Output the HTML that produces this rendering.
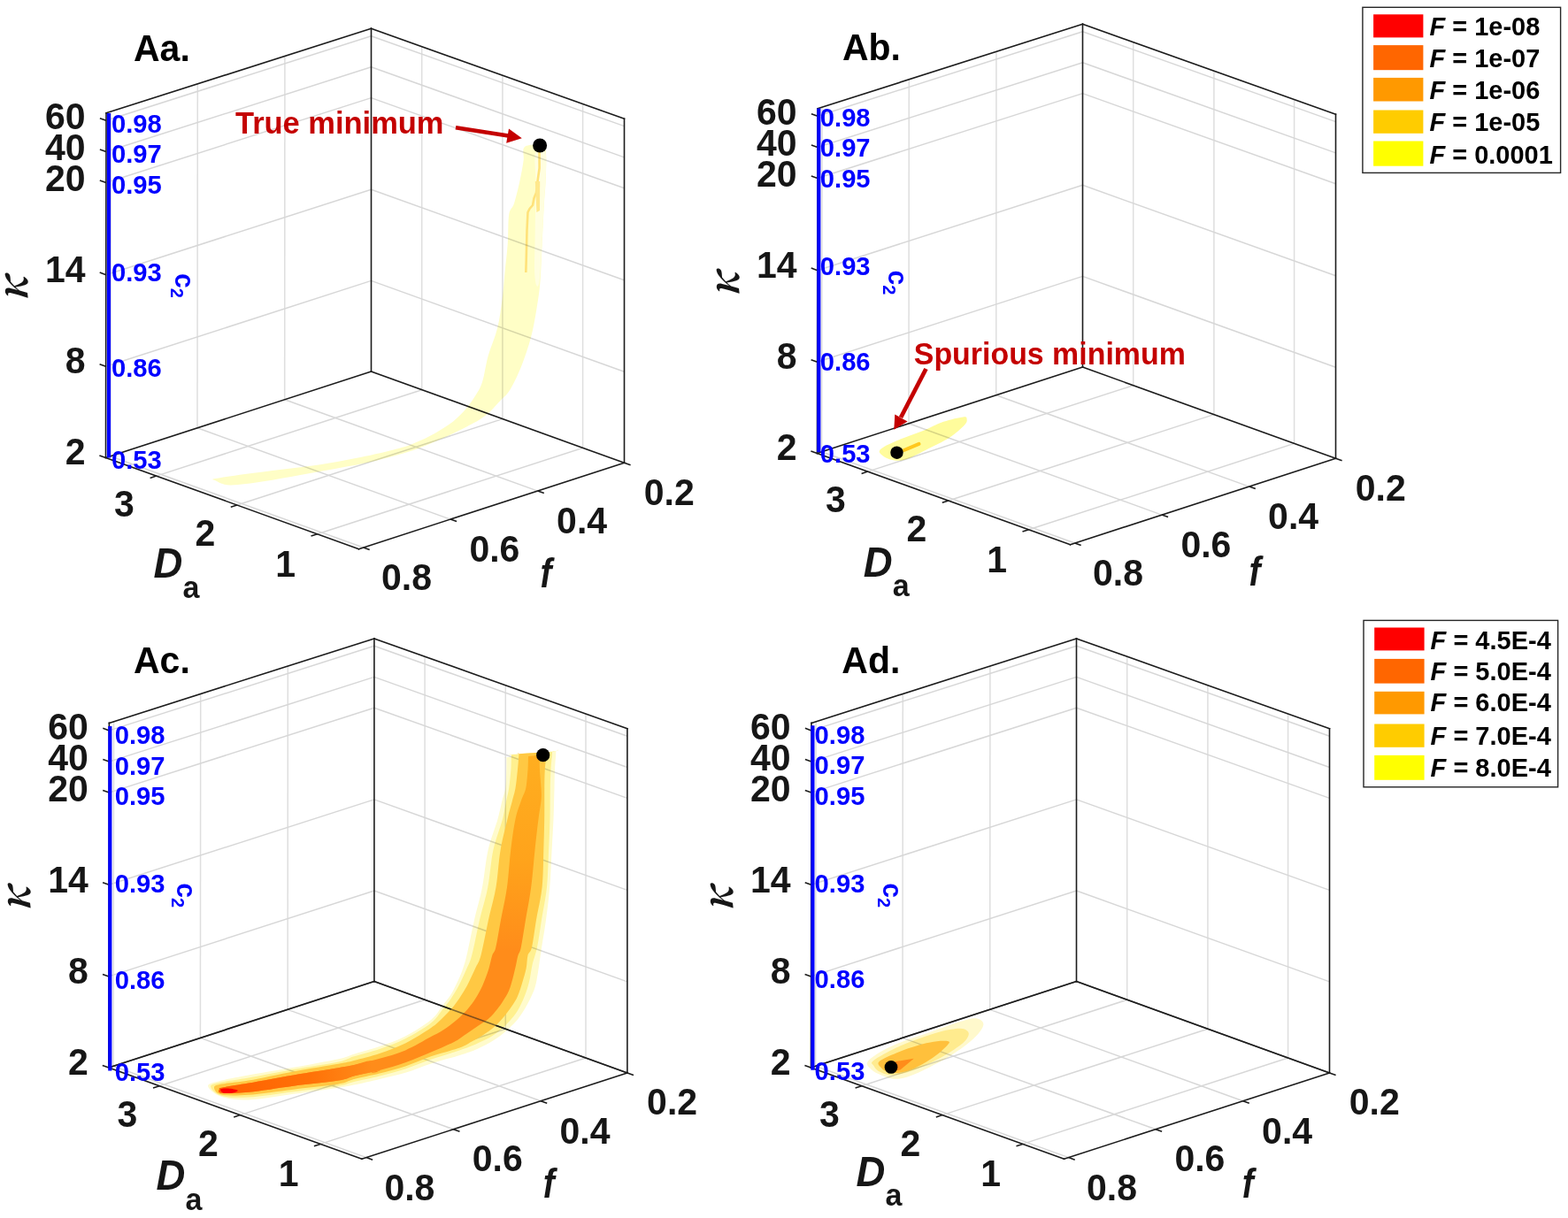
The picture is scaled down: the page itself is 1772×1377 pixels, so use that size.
<!DOCTYPE html>
<html><head><meta charset="utf-8"><title>Figure</title>
<style>html,body{margin:0;padding:0;background:#fff;} svg{display:block;}</style>
</head><body>
<svg width="1772" height="1377" viewBox="0 0 1772 1377">
<rect width="1772" height="1377" fill="#ffffff"/>
<g>
<line x1="321.7" y1="451.8" x2="321.9" y2="63.4" stroke="#dedede" stroke-width="1.5"/>
<line x1="223.0" y1="483.8" x2="223.3" y2="94.9" stroke="#dedede" stroke-width="1.5"/>
<line x1="124.6" y1="515.7" x2="125.1" y2="126.2" stroke="#dedede" stroke-width="1.5"/>
<line x1="419.5" y1="317.4" x2="119.6" y2="414.3" stroke="#d7d7d7" stroke-width="1.5"/>
<line x1="419.5" y1="214.3" x2="119.8" y2="310.7" stroke="#d7d7d7" stroke-width="1.5"/>
<line x1="419.5" y1="110.6" x2="119.9" y2="206.5" stroke="#d7d7d7" stroke-width="1.5"/>
<line x1="419.5" y1="75.8" x2="119.9" y2="171.5" stroke="#d7d7d7" stroke-width="1.5"/>
<line x1="419.5" y1="40.7" x2="120.0" y2="136.3" stroke="#d7d7d7" stroke-width="1.5"/>
<line x1="476.7" y1="440.7" x2="476.7" y2="52.7" stroke="#dedede" stroke-width="1.5"/>
<line x1="567.9" y1="473.6" x2="567.9" y2="85.2" stroke="#dedede" stroke-width="1.5"/>
<line x1="658.6" y1="506.4" x2="658.6" y2="117.5" stroke="#dedede" stroke-width="1.5"/>
<line x1="419.5" y1="317.4" x2="705.5" y2="420.3" stroke="#d7d7d7" stroke-width="1.5"/>
<line x1="419.5" y1="214.3" x2="705.5" y2="316.8" stroke="#d7d7d7" stroke-width="1.5"/>
<line x1="419.5" y1="110.6" x2="705.5" y2="212.8" stroke="#d7d7d7" stroke-width="1.5"/>
<line x1="419.5" y1="75.8" x2="705.5" y2="177.9" stroke="#d7d7d7" stroke-width="1.5"/>
<line x1="419.5" y1="40.7" x2="705.5" y2="142.6" stroke="#d7d7d7" stroke-width="1.5"/>
<line x1="476.7" y1="440.7" x2="176.7" y2="538.1" stroke="#d7d7d7" stroke-width="1.5"/>
<line x1="567.9" y1="473.6" x2="267.9" y2="571.0" stroke="#d7d7d7" stroke-width="1.5"/>
<line x1="658.6" y1="506.4" x2="358.6" y2="603.8" stroke="#d7d7d7" stroke-width="1.5"/>
<line x1="321.7" y1="451.8" x2="607.7" y2="555.1" stroke="#d7d7d7" stroke-width="1.5"/>
<line x1="223.0" y1="483.8" x2="509.0" y2="587.1" stroke="#d7d7d7" stroke-width="1.5"/>
<line x1="124.6" y1="515.7" x2="410.6" y2="619.0" stroke="#d7d7d7" stroke-width="1.5"/>
</g>
<line x1="419.5" y1="420.0" x2="419.5" y2="32.3" stroke="#1c1c1c" stroke-width="1.6" stroke-linecap="square"/>
<line x1="119.5" y1="517.4" x2="120.0" y2="127.8" stroke="#1c1c1c" stroke-width="1.6" stroke-linecap="square"/>
<line x1="705.5" y1="523.3" x2="705.5" y2="134.2" stroke="#1c1c1c" stroke-width="1.6" stroke-linecap="square"/>
<line x1="120.0" y1="127.8" x2="419.5" y2="32.3" stroke="#1c1c1c" stroke-width="1.6" stroke-linecap="square"/>
<line x1="419.5" y1="32.3" x2="705.5" y2="134.2" stroke="#1c1c1c" stroke-width="1.6" stroke-linecap="square"/>
<line x1="119.5" y1="517.4" x2="419.5" y2="420.0" stroke="#1c1c1c" stroke-width="1.6" stroke-linecap="square"/>
<line x1="419.5" y1="420.0" x2="705.5" y2="523.3" stroke="#1c1c1c" stroke-width="1.6" stroke-linecap="square"/>
<line x1="119.5" y1="517.4" x2="405.5" y2="620.7" stroke="#1c1c1c" stroke-width="1.6" stroke-linecap="square"/>
<line x1="405.5" y1="620.7" x2="705.5" y2="523.3" stroke="#1c1c1c" stroke-width="1.6" stroke-linecap="square"/>
<line x1="119.5" y1="517.4" x2="112.4" y2="514.9" stroke="#1c1c1c" stroke-width="1.6"/>
<line x1="119.6" y1="414.3" x2="112.6" y2="411.8" stroke="#1c1c1c" stroke-width="1.6"/>
<line x1="119.8" y1="310.7" x2="112.7" y2="308.1" stroke="#1c1c1c" stroke-width="1.6"/>
<line x1="119.9" y1="206.5" x2="112.8" y2="204.0" stroke="#1c1c1c" stroke-width="1.6"/>
<line x1="119.9" y1="171.5" x2="112.9" y2="169.0" stroke="#1c1c1c" stroke-width="1.6"/>
<line x1="120.0" y1="136.3" x2="112.9" y2="133.7" stroke="#1c1c1c" stroke-width="1.6"/>
<line x1="176.7" y1="538.1" x2="169.6" y2="540.4" stroke="#1c1c1c" stroke-width="1.6"/>
<line x1="267.9" y1="571.0" x2="260.8" y2="573.3" stroke="#1c1c1c" stroke-width="1.6"/>
<line x1="358.6" y1="603.8" x2="351.5" y2="606.1" stroke="#1c1c1c" stroke-width="1.6"/>
<line x1="705.5" y1="523.3" x2="712.6" y2="525.8" stroke="#1c1c1c" stroke-width="1.6"/>
<line x1="607.7" y1="555.1" x2="614.8" y2="557.6" stroke="#1c1c1c" stroke-width="1.6"/>
<line x1="509.0" y1="587.1" x2="516.1" y2="589.6" stroke="#1c1c1c" stroke-width="1.6"/>
<line x1="410.6" y1="619.0" x2="417.7" y2="621.6" stroke="#1c1c1c" stroke-width="1.6"/>
<g style="mix-blend-mode:multiply">
<path d="M243.4,541.1 C249.0,539.9 264.3,537.6 276.8,535.9 C289.3,534.2 304.6,532.5 318.5,530.7 C332.4,529.0 346.4,527.5 360.3,525.4 C374.2,523.3 388.1,520.9 402.0,518.1 C415.9,515.3 433.4,511.3 443.8,508.7 C454.2,506.1 457.7,505.1 464.7,502.5 C471.7,499.9 478.6,496.8 485.6,493.1 C492.6,489.5 500.2,485.1 506.5,480.6 C512.8,476.1 518.3,471.1 523.2,465.9 C528.1,460.7 532.4,454.8 536.0,449.2 C539.6,443.6 542.4,439.8 545.0,432.0 C547.6,424.2 548.8,412.8 551.6,402.6 C554.5,392.4 559.5,381.5 562.1,371.0 C564.7,360.5 566.0,350.0 567.4,339.5 C568.8,329.0 569.5,318.4 570.5,307.9 C571.5,297.4 572.9,287.2 573.7,276.3 C574.5,265.4 574.0,250.3 575.2,242.6 C576.4,234.9 579.0,236.3 581.0,230.0 C583.0,223.7 585.6,212.8 587.4,204.7 C589.2,196.6 590.7,188.0 591.6,181.6 C592.5,175.2 589.6,168.9 593.0,166.0 C596.4,163.1 608.0,163.2 612.0,164.0 C616.0,164.8 616.0,164.6 616.8,171.0 C617.6,177.4 617.1,192.1 616.8,202.6 C616.4,213.1 615.4,221.9 614.7,234.2 C614.0,246.5 613.3,262.3 612.6,276.3 C611.9,290.3 611.5,306.1 610.5,318.4 C609.5,330.7 608.0,339.5 606.3,350.0 C604.5,360.5 602.8,371.1 600.0,381.6 C597.2,392.1 593.4,403.5 589.5,413.2 C585.6,422.9 580.9,433.2 576.8,439.9 C572.7,446.6 569.7,448.4 564.9,453.4 C560.1,458.4 554.5,465.2 548.2,470.1 C541.9,475.0 536.0,478.1 527.3,482.6 C518.6,487.1 506.4,492.8 496.0,497.3 C485.6,501.8 476.9,505.8 464.7,509.8 C452.5,513.8 436.8,518.0 422.9,521.3 C409.0,524.6 395.1,527.0 381.2,529.6 C367.3,532.2 353.3,534.5 339.4,536.9 C325.5,539.3 310.8,542.3 297.6,544.2 C284.4,546.1 269.0,548.6 260.0,548.4 C251.0,548.2 246.2,544.4 243.4,543.2 C240.6,542.0 237.8,542.3 243.4,541.1Z" fill="#fffec6"/>
<path d="M605.0,173.0 C603.2,178.3 605.5,193.8 605.5,205.0 C605.5,216.2 605.2,228.2 605.0,240.0 C604.8,251.8 604.7,265.2 604.5,276.0 C604.3,286.8 603.8,297.3 604.0,305.0 C604.2,312.7 605.1,319.8 606.0,322.0 C606.9,324.2 608.4,325.7 609.5,318.0 C610.6,310.3 611.6,290.0 612.4,276.0 C613.2,262.0 613.8,246.4 614.5,234.2 C615.2,222.0 616.2,212.8 616.5,202.6 C616.8,192.4 618.4,177.9 616.5,173.0 C614.6,168.1 606.8,167.7 605.0,173.0Z" fill="#fffee0"/>
<path d="M609.5,170.0 L609.6,190.0 L607.5,205.0 L606.0,218.0 L603.5,224.0 L602.0,232.0 L598.5,236.0 L596.5,240.0 L595.5,260.0 L594.8,290.0 L594.3,308.0" fill="none" stroke="#ffe27a" stroke-width="2.6" stroke-linejoin="round"/>
<path d="M604.8,205 L606.4,240 L610,238 L610.2,205 Z" fill="#ffe88c"/>
</g>
<circle cx="610.1" cy="164.5" r="8.0" fill="#000000"/>
<text transform="translate(96.5,146.3) scale(1,1.04)" font-family='"Liberation Sans", Arial, sans-serif' font-size="41" font-weight="bold" font-style="normal" fill="#161616" text-anchor="end">60</text>
<text transform="translate(96.5,180.9) scale(1,1.04)" font-family='"Liberation Sans", Arial, sans-serif' font-size="41" font-weight="bold" font-style="normal" fill="#161616" text-anchor="end">40</text>
<text transform="translate(96.5,215.9) scale(1,1.04)" font-family='"Liberation Sans", Arial, sans-serif' font-size="41" font-weight="bold" font-style="normal" fill="#161616" text-anchor="end">20</text>
<text transform="translate(96.5,319.4) scale(1,1.04)" font-family='"Liberation Sans", Arial, sans-serif' font-size="41" font-weight="bold" font-style="normal" fill="#161616" text-anchor="end">14</text>
<text transform="translate(96.5,422.0) scale(1,1.04)" font-family='"Liberation Sans", Arial, sans-serif' font-size="41" font-weight="bold" font-style="normal" fill="#161616" text-anchor="end">8</text>
<text transform="translate(96.5,525.3) scale(1,1.04)" font-family='"Liberation Sans", Arial, sans-serif' font-size="41" font-weight="bold" font-style="normal" fill="#161616" text-anchor="end">2</text>
<text transform="translate(140.5,584.0) scale(1,1.04)" font-family='"Liberation Sans", Arial, sans-serif' font-size="41" font-weight="bold" font-style="normal" fill="#161616" text-anchor="middle">3</text>
<text transform="translate(232.0,617.0) scale(1,1.04)" font-family='"Liberation Sans", Arial, sans-serif' font-size="41" font-weight="bold" font-style="normal" fill="#161616" text-anchor="middle">2</text>
<text transform="translate(322.7,651.5) scale(1,1.04)" font-family='"Liberation Sans", Arial, sans-serif' font-size="41" font-weight="bold" font-style="normal" fill="#161616" text-anchor="middle">1</text>
<text transform="translate(459.5,667.2) scale(1,1.04)" font-family='"Liberation Sans", Arial, sans-serif' font-size="41" font-weight="bold" font-style="normal" fill="#161616" text-anchor="middle">0.8</text>
<text transform="translate(558.9,634.7) scale(1,1.04)" font-family='"Liberation Sans", Arial, sans-serif' font-size="41" font-weight="bold" font-style="normal" fill="#161616" text-anchor="middle">0.6</text>
<text transform="translate(657.6,603.3) scale(1,1.04)" font-family='"Liberation Sans", Arial, sans-serif' font-size="41" font-weight="bold" font-style="normal" fill="#161616" text-anchor="middle">0.4</text>
<text transform="translate(756.2,570.7) scale(1,1.04)" font-family='"Liberation Sans", Arial, sans-serif' font-size="41" font-weight="bold" font-style="normal" fill="#161616" text-anchor="middle">0.2</text>
<text transform="translate(173.5,653.0) scale(1,1.04)" font-family='"Liberation Sans", Arial, sans-serif' font-size="45.5" font-weight="bold" font-style="italic" fill="#161616" text-anchor="start">D</text>
<text transform="translate(206.5,675.7) scale(1,1.04)" font-family='"Liberation Sans", Arial, sans-serif' font-size="34" font-weight="bold" font-style="normal" fill="#161616" text-anchor="start">a</text>
<text transform="translate(610.5,664.0) scale(0.87,1.04)" font-family='"Liberation Sans", Arial, sans-serif' font-size="45" font-weight="bold" font-style="italic" fill="#161616">f</text>
<text x="0" y="0" transform="translate(31.0,327.0) rotate(-90)" font-family='"Noto Serif CJK SC", "Liberation Serif", serif' font-size="46" font-style="italic" font-weight="bold" fill="#161616" text-anchor="middle">κ</text>
<line x1="123.0" y1="127.9" x2="123.0" y2="517.6" stroke="#0000ff" stroke-width="4.2"/>
<text transform="translate(126.0,149.5) scale(1,1.04)" font-family='"Liberation Sans", Arial, sans-serif' font-size="29.2" font-weight="bold" font-style="normal" fill="#0000ff" text-anchor="start">0.98</text>
<text transform="translate(126.0,183.9) scale(1,1.04)" font-family='"Liberation Sans", Arial, sans-serif' font-size="29.2" font-weight="bold" font-style="normal" fill="#0000ff" text-anchor="start">0.97</text>
<text transform="translate(126.0,218.6) scale(1,1.04)" font-family='"Liberation Sans", Arial, sans-serif' font-size="29.2" font-weight="bold" font-style="normal" fill="#0000ff" text-anchor="start">0.95</text>
<text transform="translate(126.0,317.5) scale(1,1.04)" font-family='"Liberation Sans", Arial, sans-serif' font-size="29.2" font-weight="bold" font-style="normal" fill="#0000ff" text-anchor="start">0.93</text>
<text transform="translate(126.0,425.9) scale(1,1.04)" font-family='"Liberation Sans", Arial, sans-serif' font-size="29.2" font-weight="bold" font-style="normal" fill="#0000ff" text-anchor="start">0.86</text>
<text transform="translate(126.0,529.8) scale(1,1.04)" font-family='"Liberation Sans", Arial, sans-serif' font-size="29.2" font-weight="bold" font-style="normal" fill="#0000ff" text-anchor="start">0.53</text>
<text x="0" y="0" transform="translate(198.4,309.0) rotate(90) scale(1,1.04)" font-family='"Liberation Sans", Arial, sans-serif' font-size="30" font-weight="bold" fill="#0000ff">c<tspan font-size="20" dy="5.5">2</tspan></text>
<text transform="translate(151.0,68.6) scale(1,1.04)" font-family='"Liberation Sans", Arial, sans-serif' font-size="41" font-weight="bold" font-style="normal" fill="#000000" text-anchor="start">Aa.</text>
<g>
<line x1="1125.7" y1="446.8" x2="1125.9" y2="58.4" stroke="#dedede" stroke-width="1.5"/>
<line x1="1027.0" y1="478.8" x2="1027.3" y2="89.9" stroke="#dedede" stroke-width="1.5"/>
<line x1="928.6" y1="510.7" x2="929.1" y2="121.2" stroke="#dedede" stroke-width="1.5"/>
<line x1="1223.5" y1="312.4" x2="923.6" y2="409.3" stroke="#d7d7d7" stroke-width="1.5"/>
<line x1="1223.5" y1="209.3" x2="923.8" y2="305.7" stroke="#d7d7d7" stroke-width="1.5"/>
<line x1="1223.5" y1="105.6" x2="923.9" y2="201.5" stroke="#d7d7d7" stroke-width="1.5"/>
<line x1="1223.5" y1="70.8" x2="923.9" y2="166.5" stroke="#d7d7d7" stroke-width="1.5"/>
<line x1="1223.5" y1="35.7" x2="924.0" y2="131.3" stroke="#d7d7d7" stroke-width="1.5"/>
<line x1="1280.7" y1="435.7" x2="1280.7" y2="47.7" stroke="#dedede" stroke-width="1.5"/>
<line x1="1371.9" y1="468.6" x2="1371.9" y2="80.2" stroke="#dedede" stroke-width="1.5"/>
<line x1="1462.6" y1="501.4" x2="1462.6" y2="112.5" stroke="#dedede" stroke-width="1.5"/>
<line x1="1223.5" y1="312.4" x2="1509.5" y2="415.3" stroke="#d7d7d7" stroke-width="1.5"/>
<line x1="1223.5" y1="209.3" x2="1509.5" y2="311.8" stroke="#d7d7d7" stroke-width="1.5"/>
<line x1="1223.5" y1="105.6" x2="1509.5" y2="207.8" stroke="#d7d7d7" stroke-width="1.5"/>
<line x1="1223.5" y1="70.8" x2="1509.5" y2="172.9" stroke="#d7d7d7" stroke-width="1.5"/>
<line x1="1223.5" y1="35.7" x2="1509.5" y2="137.6" stroke="#d7d7d7" stroke-width="1.5"/>
<line x1="1280.7" y1="435.7" x2="980.7" y2="533.1" stroke="#d7d7d7" stroke-width="1.5"/>
<line x1="1371.9" y1="468.6" x2="1071.9" y2="566.0" stroke="#d7d7d7" stroke-width="1.5"/>
<line x1="1462.6" y1="501.4" x2="1162.6" y2="598.8" stroke="#d7d7d7" stroke-width="1.5"/>
<line x1="1125.7" y1="446.8" x2="1411.7" y2="550.1" stroke="#d7d7d7" stroke-width="1.5"/>
<line x1="1027.0" y1="478.8" x2="1313.0" y2="582.1" stroke="#d7d7d7" stroke-width="1.5"/>
<line x1="928.6" y1="510.7" x2="1214.6" y2="614.0" stroke="#d7d7d7" stroke-width="1.5"/>
</g>
<line x1="1223.5" y1="415.0" x2="1223.5" y2="27.3" stroke="#1c1c1c" stroke-width="1.6" stroke-linecap="square"/>
<line x1="923.5" y1="512.4" x2="924.0" y2="122.8" stroke="#1c1c1c" stroke-width="1.6" stroke-linecap="square"/>
<line x1="1509.5" y1="518.3" x2="1509.5" y2="129.2" stroke="#1c1c1c" stroke-width="1.6" stroke-linecap="square"/>
<line x1="924.0" y1="122.8" x2="1223.5" y2="27.3" stroke="#1c1c1c" stroke-width="1.6" stroke-linecap="square"/>
<line x1="1223.5" y1="27.3" x2="1509.5" y2="129.2" stroke="#1c1c1c" stroke-width="1.6" stroke-linecap="square"/>
<line x1="923.5" y1="512.4" x2="1223.5" y2="415.0" stroke="#1c1c1c" stroke-width="1.6" stroke-linecap="square"/>
<line x1="1223.5" y1="415.0" x2="1509.5" y2="518.3" stroke="#1c1c1c" stroke-width="1.6" stroke-linecap="square"/>
<line x1="923.5" y1="512.4" x2="1209.5" y2="615.7" stroke="#1c1c1c" stroke-width="1.6" stroke-linecap="square"/>
<line x1="1209.5" y1="615.7" x2="1509.5" y2="518.3" stroke="#1c1c1c" stroke-width="1.6" stroke-linecap="square"/>
<line x1="923.5" y1="512.4" x2="916.4" y2="509.9" stroke="#1c1c1c" stroke-width="1.6"/>
<line x1="923.6" y1="409.3" x2="916.6" y2="406.8" stroke="#1c1c1c" stroke-width="1.6"/>
<line x1="923.8" y1="305.7" x2="916.7" y2="303.1" stroke="#1c1c1c" stroke-width="1.6"/>
<line x1="923.9" y1="201.5" x2="916.8" y2="199.0" stroke="#1c1c1c" stroke-width="1.6"/>
<line x1="923.9" y1="166.5" x2="916.9" y2="164.0" stroke="#1c1c1c" stroke-width="1.6"/>
<line x1="924.0" y1="131.3" x2="916.9" y2="128.7" stroke="#1c1c1c" stroke-width="1.6"/>
<line x1="980.7" y1="533.1" x2="973.6" y2="535.4" stroke="#1c1c1c" stroke-width="1.6"/>
<line x1="1071.9" y1="566.0" x2="1064.8" y2="568.3" stroke="#1c1c1c" stroke-width="1.6"/>
<line x1="1162.6" y1="598.8" x2="1155.5" y2="601.1" stroke="#1c1c1c" stroke-width="1.6"/>
<line x1="1509.5" y1="518.3" x2="1516.6" y2="520.8" stroke="#1c1c1c" stroke-width="1.6"/>
<line x1="1411.7" y1="550.1" x2="1418.8" y2="552.6" stroke="#1c1c1c" stroke-width="1.6"/>
<line x1="1313.0" y1="582.1" x2="1320.1" y2="584.6" stroke="#1c1c1c" stroke-width="1.6"/>
<line x1="1214.6" y1="614.0" x2="1221.7" y2="616.6" stroke="#1c1c1c" stroke-width="1.6"/>
<g style="mix-blend-mode:multiply">
<path d="M993.8,511.0 C993.2,508.4 997.7,506.1 1001.9,503.6 C1006.1,501.1 1012.1,498.8 1018.9,496.1 C1025.7,493.4 1034.6,490.5 1042.5,487.3 C1050.4,484.1 1058.5,479.5 1066.2,476.8 C1073.9,474.1 1084.2,471.9 1088.6,471.4 C1093.0,470.9 1092.4,472.3 1092.6,473.8 C1092.8,475.3 1093.3,477.1 1090.0,480.6 C1086.7,484.1 1080.3,490.1 1073.0,494.8 C1065.7,499.5 1054.4,504.8 1045.9,509.0 C1037.4,513.2 1029.0,518.1 1022.2,519.8 C1015.4,521.5 1010.0,520.7 1005.3,519.2 C1000.6,517.7 994.4,513.6 993.8,511.0Z" fill="#fffc9c"/>
<path d="M1021.6,509 L1038.5,501.9" stroke="#ffc81e" stroke-width="4" stroke-linecap="round"/>
</g>
<circle cx="1013.5" cy="511.7" r="7.2" fill="#000000"/>
<text transform="translate(900.5,141.3) scale(1,1.04)" font-family='"Liberation Sans", Arial, sans-serif' font-size="41" font-weight="bold" font-style="normal" fill="#161616" text-anchor="end">60</text>
<text transform="translate(900.5,175.9) scale(1,1.04)" font-family='"Liberation Sans", Arial, sans-serif' font-size="41" font-weight="bold" font-style="normal" fill="#161616" text-anchor="end">40</text>
<text transform="translate(900.5,210.9) scale(1,1.04)" font-family='"Liberation Sans", Arial, sans-serif' font-size="41" font-weight="bold" font-style="normal" fill="#161616" text-anchor="end">20</text>
<text transform="translate(900.5,314.4) scale(1,1.04)" font-family='"Liberation Sans", Arial, sans-serif' font-size="41" font-weight="bold" font-style="normal" fill="#161616" text-anchor="end">14</text>
<text transform="translate(900.5,417.0) scale(1,1.04)" font-family='"Liberation Sans", Arial, sans-serif' font-size="41" font-weight="bold" font-style="normal" fill="#161616" text-anchor="end">8</text>
<text transform="translate(900.5,520.3) scale(1,1.04)" font-family='"Liberation Sans", Arial, sans-serif' font-size="41" font-weight="bold" font-style="normal" fill="#161616" text-anchor="end">2</text>
<text transform="translate(944.5,579.0) scale(1,1.04)" font-family='"Liberation Sans", Arial, sans-serif' font-size="41" font-weight="bold" font-style="normal" fill="#161616" text-anchor="middle">3</text>
<text transform="translate(1036.0,612.0) scale(1,1.04)" font-family='"Liberation Sans", Arial, sans-serif' font-size="41" font-weight="bold" font-style="normal" fill="#161616" text-anchor="middle">2</text>
<text transform="translate(1126.7,646.5) scale(1,1.04)" font-family='"Liberation Sans", Arial, sans-serif' font-size="41" font-weight="bold" font-style="normal" fill="#161616" text-anchor="middle">1</text>
<text transform="translate(1263.5,662.2) scale(1,1.04)" font-family='"Liberation Sans", Arial, sans-serif' font-size="41" font-weight="bold" font-style="normal" fill="#161616" text-anchor="middle">0.8</text>
<text transform="translate(1362.9,629.7) scale(1,1.04)" font-family='"Liberation Sans", Arial, sans-serif' font-size="41" font-weight="bold" font-style="normal" fill="#161616" text-anchor="middle">0.6</text>
<text transform="translate(1461.6,598.3) scale(1,1.04)" font-family='"Liberation Sans", Arial, sans-serif' font-size="41" font-weight="bold" font-style="normal" fill="#161616" text-anchor="middle">0.4</text>
<text transform="translate(1560.2,565.7) scale(1,1.04)" font-family='"Liberation Sans", Arial, sans-serif' font-size="41" font-weight="bold" font-style="normal" fill="#161616" text-anchor="middle">0.2</text>
<text transform="translate(975.7,651.5) scale(1,1.04)" font-family='"Liberation Sans", Arial, sans-serif' font-size="45.5" font-weight="bold" font-style="italic" fill="#161616" text-anchor="start">D</text>
<text transform="translate(1008.7,674.2) scale(1,1.04)" font-family='"Liberation Sans", Arial, sans-serif' font-size="34" font-weight="bold" font-style="normal" fill="#161616" text-anchor="start">a</text>
<text transform="translate(1411.4,661.9) scale(0.87,1.04)" font-family='"Liberation Sans", Arial, sans-serif' font-size="45" font-weight="bold" font-style="italic" fill="#161616">f</text>
<text x="0" y="0" transform="translate(835.0,322.0) rotate(-90)" font-family='"Noto Serif CJK SC", "Liberation Serif", serif' font-size="46" font-style="italic" font-weight="bold" fill="#161616" text-anchor="middle">κ</text>
<line x1="925.3" y1="122.5" x2="925.3" y2="511.2" stroke="#0000ff" stroke-width="4.2"/>
<text transform="translate(926.8,143.0) scale(1,1.04)" font-family='"Liberation Sans", Arial, sans-serif' font-size="29.2" font-weight="bold" font-style="normal" fill="#0000ff" text-anchor="start">0.98</text>
<text transform="translate(926.8,177.4) scale(1,1.04)" font-family='"Liberation Sans", Arial, sans-serif' font-size="29.2" font-weight="bold" font-style="normal" fill="#0000ff" text-anchor="start">0.97</text>
<text transform="translate(926.8,212.1) scale(1,1.04)" font-family='"Liberation Sans", Arial, sans-serif' font-size="29.2" font-weight="bold" font-style="normal" fill="#0000ff" text-anchor="start">0.95</text>
<text transform="translate(926.8,311.0) scale(1,1.04)" font-family='"Liberation Sans", Arial, sans-serif' font-size="29.2" font-weight="bold" font-style="normal" fill="#0000ff" text-anchor="start">0.93</text>
<text transform="translate(926.8,419.4) scale(1,1.04)" font-family='"Liberation Sans", Arial, sans-serif' font-size="29.2" font-weight="bold" font-style="normal" fill="#0000ff" text-anchor="start">0.86</text>
<text transform="translate(926.8,523.3) scale(1,1.04)" font-family='"Liberation Sans", Arial, sans-serif' font-size="29.2" font-weight="bold" font-style="normal" fill="#0000ff" text-anchor="start">0.53</text>
<text x="0" y="0" transform="translate(1003.6,305.5) rotate(90) scale(1,1.04)" font-family='"Liberation Sans", Arial, sans-serif' font-size="30" font-weight="bold" fill="#0000ff">c<tspan font-size="20" dy="5.5">2</tspan></text>
<text transform="translate(951.9,68.1) scale(1,1.04)" font-family='"Liberation Sans", Arial, sans-serif' font-size="41" font-weight="bold" font-style="normal" fill="#000000" text-anchor="start">Ab.</text>
<g>
<line x1="325.1" y1="1141.4" x2="325.3" y2="753.0" stroke="#dedede" stroke-width="1.5"/>
<line x1="226.4" y1="1173.4" x2="226.7" y2="784.5" stroke="#dedede" stroke-width="1.5"/>
<line x1="128.0" y1="1205.3" x2="128.5" y2="815.8" stroke="#dedede" stroke-width="1.5"/>
<line x1="422.9" y1="1007.0" x2="123.0" y2="1103.9" stroke="#d7d7d7" stroke-width="1.5"/>
<line x1="422.9" y1="903.9" x2="123.2" y2="1000.3" stroke="#d7d7d7" stroke-width="1.5"/>
<line x1="422.9" y1="800.2" x2="123.3" y2="896.1" stroke="#d7d7d7" stroke-width="1.5"/>
<line x1="422.9" y1="765.4" x2="123.3" y2="861.1" stroke="#d7d7d7" stroke-width="1.5"/>
<line x1="422.9" y1="730.3" x2="123.4" y2="825.9" stroke="#d7d7d7" stroke-width="1.5"/>
<line x1="480.1" y1="1130.3" x2="480.1" y2="742.3" stroke="#dedede" stroke-width="1.5"/>
<line x1="571.3" y1="1163.2" x2="571.3" y2="774.8" stroke="#dedede" stroke-width="1.5"/>
<line x1="662.0" y1="1196.0" x2="662.0" y2="807.1" stroke="#dedede" stroke-width="1.5"/>
<line x1="422.9" y1="1007.0" x2="708.9" y2="1109.9" stroke="#d7d7d7" stroke-width="1.5"/>
<line x1="422.9" y1="903.9" x2="708.9" y2="1006.4" stroke="#d7d7d7" stroke-width="1.5"/>
<line x1="422.9" y1="800.2" x2="708.9" y2="902.4" stroke="#d7d7d7" stroke-width="1.5"/>
<line x1="422.9" y1="765.4" x2="708.9" y2="867.5" stroke="#d7d7d7" stroke-width="1.5"/>
<line x1="422.9" y1="730.3" x2="708.9" y2="832.2" stroke="#d7d7d7" stroke-width="1.5"/>
<line x1="480.1" y1="1130.3" x2="180.1" y2="1227.7" stroke="#d7d7d7" stroke-width="1.5"/>
<line x1="571.3" y1="1163.2" x2="271.3" y2="1260.6" stroke="#d7d7d7" stroke-width="1.5"/>
<line x1="662.0" y1="1196.0" x2="362.0" y2="1293.4" stroke="#d7d7d7" stroke-width="1.5"/>
<line x1="325.1" y1="1141.4" x2="611.1" y2="1244.7" stroke="#d7d7d7" stroke-width="1.5"/>
<line x1="226.4" y1="1173.4" x2="512.4" y2="1276.7" stroke="#d7d7d7" stroke-width="1.5"/>
<line x1="128.0" y1="1205.3" x2="414.0" y2="1308.6" stroke="#d7d7d7" stroke-width="1.5"/>
</g>
<line x1="422.9" y1="1109.6" x2="422.9" y2="721.9" stroke="#1c1c1c" stroke-width="1.6" stroke-linecap="square"/>
<line x1="122.9" y1="1207.0" x2="123.4" y2="817.4" stroke="#1c1c1c" stroke-width="1.6" stroke-linecap="square"/>
<line x1="708.9" y1="1212.9" x2="708.9" y2="823.8" stroke="#1c1c1c" stroke-width="1.6" stroke-linecap="square"/>
<line x1="123.4" y1="817.4" x2="422.9" y2="721.9" stroke="#1c1c1c" stroke-width="1.6" stroke-linecap="square"/>
<line x1="422.9" y1="721.9" x2="708.9" y2="823.8" stroke="#1c1c1c" stroke-width="1.6" stroke-linecap="square"/>
<line x1="122.9" y1="1207.0" x2="422.9" y2="1109.6" stroke="#1c1c1c" stroke-width="1.6" stroke-linecap="square"/>
<line x1="422.9" y1="1109.6" x2="708.9" y2="1212.9" stroke="#1c1c1c" stroke-width="1.6" stroke-linecap="square"/>
<line x1="122.9" y1="1207.0" x2="408.9" y2="1310.3" stroke="#1c1c1c" stroke-width="1.6" stroke-linecap="square"/>
<line x1="408.9" y1="1310.3" x2="708.9" y2="1212.9" stroke="#1c1c1c" stroke-width="1.6" stroke-linecap="square"/>
<line x1="122.9" y1="1207.0" x2="115.8" y2="1204.5" stroke="#1c1c1c" stroke-width="1.6"/>
<line x1="123.0" y1="1103.9" x2="116.0" y2="1101.4" stroke="#1c1c1c" stroke-width="1.6"/>
<line x1="123.2" y1="1000.3" x2="116.1" y2="997.7" stroke="#1c1c1c" stroke-width="1.6"/>
<line x1="123.3" y1="896.1" x2="116.2" y2="893.6" stroke="#1c1c1c" stroke-width="1.6"/>
<line x1="123.3" y1="861.1" x2="116.3" y2="858.6" stroke="#1c1c1c" stroke-width="1.6"/>
<line x1="123.4" y1="825.9" x2="116.3" y2="823.3" stroke="#1c1c1c" stroke-width="1.6"/>
<line x1="180.1" y1="1227.7" x2="173.0" y2="1230.0" stroke="#1c1c1c" stroke-width="1.6"/>
<line x1="271.3" y1="1260.6" x2="264.2" y2="1262.9" stroke="#1c1c1c" stroke-width="1.6"/>
<line x1="362.0" y1="1293.4" x2="354.9" y2="1295.7" stroke="#1c1c1c" stroke-width="1.6"/>
<line x1="708.9" y1="1212.9" x2="716.0" y2="1215.4" stroke="#1c1c1c" stroke-width="1.6"/>
<line x1="611.1" y1="1244.7" x2="618.2" y2="1247.2" stroke="#1c1c1c" stroke-width="1.6"/>
<line x1="512.4" y1="1276.7" x2="519.5" y2="1279.2" stroke="#1c1c1c" stroke-width="1.6"/>
<line x1="414.0" y1="1308.6" x2="421.1" y2="1311.2" stroke="#1c1c1c" stroke-width="1.6"/>
<defs><linearGradient id="gcv" gradientUnits="userSpaceOnUse" x1="0" y1="852" x2="0" y2="1075"><stop offset="0" stop-color="#ffae20"/><stop offset="0.55" stop-color="#ffa31b"/><stop offset="1" stop-color="#ff8c1a"/></linearGradient><linearGradient id="gch" gradientUnits="userSpaceOnUse" x1="250" y1="0" x2="420" y2="0"><stop offset="0" stop-color="#ff6000"/><stop offset="0.6" stop-color="#ff7208"/><stop offset="1" stop-color="#ff8c1a"/></linearGradient></defs>
<g style="mix-blend-mode:multiply">
<path d="M235.1,1227.7 C235.1,1224.7 242.7,1223.6 250.3,1221.6 C257.9,1219.6 267.2,1218.0 280.8,1215.5 C294.4,1213.0 314.7,1209.8 331.6,1206.8 C348.5,1203.8 371.0,1199.7 382.4,1197.2 C393.8,1194.7 392.2,1194.1 400.0,1191.7 C407.8,1189.3 419.3,1186.4 429.0,1183.0 C438.7,1179.6 448.4,1176.4 458.1,1171.4 C467.8,1166.4 480.1,1158.7 487.1,1153.0 C494.1,1147.3 496.2,1141.8 500.0,1137.0 C503.8,1132.2 507.1,1128.3 509.8,1124.0 C512.5,1119.7 514.4,1115.5 516.5,1111.0 C518.6,1106.5 520.7,1102.2 522.5,1097.0 C524.3,1091.8 525.2,1089.5 527.5,1080.0 C529.8,1070.5 533.1,1052.8 536.0,1040.0 C538.9,1027.2 542.4,1016.2 545.0,1003.0 C547.6,989.8 548.7,973.8 551.6,961.0 C554.5,948.2 559.9,935.3 562.5,926.0 C565.1,916.7 566.0,910.8 567.5,905.0 C569.0,899.2 570.4,896.8 571.2,891.0 C572.0,885.2 572.1,875.7 572.3,870.0 C572.5,864.3 572.2,859.3 572.5,857.0 C572.8,854.7 564.9,857.3 574.0,856.0 C583.1,854.7 618.0,850.0 627.0,849.0 C636.0,848.0 628.3,846.5 628.3,850.0 C628.3,853.5 627.3,863.2 627.0,870.0 C626.7,876.8 626.8,881.7 626.5,891.0 C626.2,900.3 626.0,914.3 625.5,926.0 C625.0,937.7 624.3,948.2 623.6,961.0 C622.9,973.8 622.4,989.8 621.3,1003.0 C620.2,1016.2 618.5,1028.7 617.0,1040.0 C615.5,1051.3 613.9,1059.7 612.1,1071.0 C610.4,1082.3 608.2,1099.3 606.5,1108.0 C604.8,1116.7 604.0,1118.2 602.0,1123.1 C600.0,1128.0 597.6,1132.6 594.8,1137.5 C592.0,1142.4 588.8,1147.8 585.0,1152.5 C581.2,1157.2 576.3,1161.7 571.9,1165.5 C567.5,1169.3 564.2,1172.1 558.8,1175.5 C553.3,1178.9 545.7,1183.1 539.2,1186.0 C532.7,1188.9 528.3,1190.2 519.6,1193.0 C510.9,1195.8 497.4,1199.2 487.1,1202.5 C476.9,1205.8 467.8,1209.9 458.1,1212.8 C448.4,1215.7 438.7,1217.7 429.0,1220.0 C419.3,1222.3 407.8,1225.0 400.0,1226.6 C392.2,1228.2 393.8,1228.0 382.4,1229.7 C371.0,1231.4 348.5,1234.5 331.6,1236.8 C314.7,1239.1 294.4,1242.9 280.8,1243.4 C267.2,1243.9 257.9,1242.5 250.3,1239.9 C242.7,1237.3 235.1,1230.8 235.1,1227.7Z" fill="#fffbcc"/>
<path d="M238.0,1228.2 C238.0,1225.7 243.2,1225.1 250.3,1223.5 C257.4,1221.9 267.2,1220.9 280.8,1218.5 C294.4,1216.1 314.7,1212.0 331.6,1209.0 C348.5,1206.0 371.0,1203.0 382.4,1200.5 C393.8,1198.0 392.2,1196.6 400.0,1194.2 C407.8,1191.8 419.3,1189.2 429.0,1185.9 C438.7,1182.6 448.4,1179.2 458.1,1174.3 C467.8,1169.4 480.1,1162.0 487.1,1156.5 C494.1,1151.0 496.2,1146.2 500.0,1141.5 C503.8,1136.8 506.7,1133.4 510.0,1128.5 C513.3,1123.6 516.8,1117.4 519.6,1112.0 C522.4,1106.6 524.7,1101.3 527.0,1096.0 C529.3,1090.7 530.7,1089.3 533.2,1080.0 C535.7,1070.7 539.0,1052.8 542.0,1040.0 C545.0,1027.2 548.7,1016.2 551.3,1003.0 C553.9,989.8 554.6,973.8 557.4,961.0 C560.2,948.2 565.6,935.2 568.0,926.0 C570.4,916.8 570.8,911.8 572.0,906.0 C573.2,900.2 574.3,897.0 575.2,891.0 C576.1,885.0 576.9,876.2 577.4,870.0 C577.9,863.8 577.7,856.8 578.0,854.0 C578.3,851.2 571.5,853.7 579.0,853.0 C586.5,852.3 615.5,850.3 623.0,850.0 C630.5,849.7 624.1,847.7 624.0,851.0 C623.9,854.3 622.9,863.3 622.5,870.0 C622.1,876.7 622.0,881.7 621.8,891.0 C621.6,900.3 621.8,914.3 621.5,926.0 C621.2,937.7 620.7,948.2 620.1,961.0 C619.5,973.8 619.4,989.8 618.0,1003.0 C616.6,1016.2 613.8,1028.7 612.0,1040.0 C610.2,1051.3 608.8,1062.5 607.0,1071.0 C605.2,1079.5 603.0,1084.4 601.5,1090.9 C600.0,1097.4 599.5,1104.1 598.0,1110.0 C596.5,1115.9 595.0,1120.9 592.8,1126.3 C590.6,1131.7 587.9,1137.7 585.0,1142.5 C582.1,1147.3 578.5,1151.3 575.2,1155.0 C571.9,1158.7 569.2,1161.4 565.4,1164.5 C561.6,1167.6 557.8,1170.5 552.3,1173.5 C546.8,1176.5 539.2,1179.8 532.7,1182.5 C526.2,1185.2 520.7,1187.0 513.1,1189.5 C505.5,1192.0 496.3,1194.6 487.1,1197.8 C477.9,1201.0 467.8,1205.3 458.1,1208.4 C448.4,1211.5 438.7,1214.0 429.0,1216.4 C419.3,1218.8 407.8,1221.1 400.0,1223.0 C392.2,1224.9 393.8,1225.8 382.4,1227.7 C371.0,1229.6 348.5,1232.1 331.6,1234.2 C314.7,1236.3 294.4,1239.7 280.8,1240.5 C267.2,1241.3 257.4,1240.8 250.3,1238.8 C243.2,1236.8 238.0,1230.8 238.0,1228.2Z" fill="#fff08f"/>
</g>
<path d="M242.0,1229.5 C242.0,1227.5 243.8,1226.8 250.3,1225.5 C256.8,1224.2 267.2,1223.9 280.8,1221.6 C294.4,1219.2 314.7,1214.5 331.6,1211.4 C348.5,1208.3 371.0,1204.9 382.4,1202.8 C393.8,1200.7 392.2,1201.0 400.0,1199.0 C407.8,1197.0 419.3,1194.3 429.0,1191.0 C438.7,1187.7 448.4,1184.2 458.1,1179.4 C467.8,1174.6 480.1,1166.7 487.1,1162.0 C494.1,1157.3 495.7,1155.2 500.0,1151.0 C504.3,1146.8 509.1,1142.0 513.1,1137.0 C517.1,1132.0 521.0,1125.8 524.0,1121.0 C527.0,1116.2 528.8,1112.5 531.0,1108.0 C533.2,1103.5 535.4,1098.7 537.5,1094.0 C539.6,1089.3 541.1,1089.0 543.5,1080.0 C545.9,1071.0 549.2,1052.8 552.0,1040.0 C554.8,1027.2 558.2,1016.2 560.5,1003.0 C562.8,989.8 563.4,973.8 565.6,961.0 C567.8,948.2 571.3,935.3 573.5,926.0 C575.7,916.7 577.5,910.8 579.0,905.0 C580.5,899.2 581.5,896.8 582.5,891.0 C583.5,885.2 584.3,876.3 585.0,870.0 C585.7,863.7 586.1,856.0 586.5,853.0 C586.9,850.0 582.5,852.7 587.5,852.3 C592.5,851.9 611.5,850.5 616.5,850.5 C621.5,850.5 617.6,848.8 617.5,852.0 C617.4,855.2 616.2,863.5 615.8,870.0 C615.4,876.5 615.4,881.7 615.3,891.0 C615.2,900.3 615.4,914.3 615.2,926.0 C615.0,937.7 614.7,948.2 614.3,961.0 C613.9,973.8 614.0,989.8 612.6,1003.0 C611.2,1016.2 607.9,1028.7 606.0,1040.0 C604.1,1051.3 602.6,1064.3 601.0,1071.0 C599.4,1077.7 597.5,1076.1 596.5,1080.0 C595.5,1083.9 595.7,1089.5 594.7,1094.5 C593.7,1099.5 592.1,1104.7 590.5,1110.0 C588.9,1115.3 587.0,1121.7 585.0,1126.3 C583.0,1130.9 581.1,1133.5 578.4,1137.5 C575.7,1141.5 571.9,1146.6 568.6,1150.5 C565.3,1154.4 562.6,1157.5 558.8,1160.8 C555.0,1164.1 550.1,1167.5 545.8,1170.3 C541.4,1173.1 537.1,1175.4 532.7,1177.8 C528.3,1180.2 527.2,1181.8 519.6,1184.5 C512.0,1187.2 497.4,1190.8 487.1,1194.3 C476.9,1197.8 467.8,1202.3 458.1,1205.5 C448.4,1208.7 438.7,1211.1 429.0,1213.5 C419.3,1215.9 407.8,1218.0 400.0,1220.0 C392.2,1222.0 393.8,1223.6 382.4,1225.6 C371.0,1227.5 348.5,1229.7 331.6,1231.7 C314.7,1233.7 294.4,1236.8 280.8,1237.8 C267.2,1238.8 256.8,1238.9 250.3,1237.5 C243.8,1236.1 242.0,1231.5 242.0,1229.5Z" fill="#ffc843"/>
<path d="M248.0,1231.0 C248.0,1230.0 244.8,1230.8 250.3,1229.7 C255.8,1228.6 267.2,1227.0 280.8,1224.6 C294.4,1222.2 314.7,1218.4 331.6,1215.5 C348.5,1212.6 371.0,1209.2 382.4,1207.3 C393.8,1205.4 392.2,1205.8 400.0,1204.1 C407.8,1202.3 419.3,1199.6 429.0,1196.8 C438.7,1194.0 448.4,1191.5 458.1,1187.4 C467.8,1183.3 480.1,1175.8 487.1,1172.1 C494.1,1168.4 495.7,1167.8 500.0,1165.0 C504.3,1162.2 508.8,1159.1 513.1,1155.5 C517.5,1151.9 522.3,1147.6 526.1,1143.5 C529.9,1139.4 533.1,1135.2 536.0,1131.0 C538.9,1126.8 541.3,1122.3 543.5,1118.0 C545.7,1113.7 547.5,1108.9 549.0,1105.0 C550.5,1101.1 551.4,1098.7 552.6,1094.5 C553.8,1090.3 555.0,1083.9 556.3,1080.0 C557.6,1076.1 558.7,1077.7 560.3,1071.0 C561.9,1064.3 563.9,1051.3 566.0,1040.0 C568.1,1028.7 571.1,1016.2 573.0,1003.0 C574.9,989.8 575.6,973.8 577.2,961.0 C578.8,948.2 580.5,935.3 582.5,926.0 C584.5,916.7 587.0,910.8 589.0,905.0 C591.0,899.2 593.0,896.8 594.3,891.0 C595.5,885.2 596.0,875.8 596.5,870.0 C597.0,864.2 596.8,858.5 597.0,856.0 C597.2,853.5 596.2,855.3 598.0,855.0 C599.8,854.7 606.1,854.0 608.0,854.0 C609.9,854.0 609.2,852.3 609.5,855.0 C609.8,857.7 609.7,864.0 610.0,870.0 C610.3,876.0 611.2,885.2 611.5,891.0 C611.8,896.8 612.0,899.2 611.5,905.0 C611.0,910.8 609.7,916.7 608.5,926.0 C607.3,935.3 605.9,948.2 604.5,961.0 C603.1,973.8 602.0,989.8 600.2,1003.0 C598.5,1016.2 595.9,1028.7 594.0,1040.0 C592.1,1051.3 590.2,1064.3 588.8,1071.0 C587.4,1077.7 586.5,1076.7 585.5,1080.0 C584.5,1083.3 584.1,1086.6 583.1,1090.9 C582.1,1095.2 580.8,1101.2 579.5,1106.0 C578.2,1110.8 577.0,1115.5 575.2,1119.8 C573.4,1124.1 570.8,1128.1 568.6,1131.6 C566.4,1135.1 564.8,1137.4 562.1,1140.7 C559.4,1144.0 556.1,1148.2 552.3,1151.5 C548.5,1154.8 543.6,1157.5 539.2,1160.5 C534.8,1163.5 530.5,1166.6 526.1,1169.5 C521.8,1172.4 519.6,1174.7 513.1,1178.0 C506.6,1181.3 496.3,1185.6 487.1,1189.5 C477.9,1193.4 467.8,1197.8 458.1,1201.2 C448.4,1204.6 438.7,1207.4 429.0,1209.9 C419.3,1212.4 407.8,1214.5 400.0,1216.4 C392.2,1218.4 393.8,1219.7 382.4,1221.6 C371.0,1223.5 348.5,1225.5 331.6,1227.7 C314.7,1229.9 294.4,1233.5 280.8,1234.8 C267.2,1236.1 255.8,1236.4 250.3,1235.8 C244.8,1235.2 248.0,1232.0 248.0,1231.0Z" fill="url(#gcv)"/>
<path d="M248.0,1231.0 C248.0,1230.0 244.8,1230.8 250.3,1229.7 C255.8,1228.6 267.2,1227.0 280.8,1224.6 C294.4,1222.2 314.7,1218.4 331.6,1215.5 C348.5,1212.6 371.0,1209.2 382.4,1207.3 C393.8,1205.4 393.7,1205.4 400.0,1204.1 C406.3,1202.8 416.7,1198.1 420.0,1199.5 C423.3,1200.9 418.5,1210.8 420.0,1212.5 C421.5,1214.2 432.3,1209.2 429.0,1209.9 C425.7,1210.6 407.8,1214.5 400.0,1216.4 C392.2,1218.4 393.8,1219.7 382.4,1221.6 C371.0,1223.5 348.5,1225.5 331.6,1227.7 C314.7,1229.9 294.4,1233.5 280.8,1234.8 C267.2,1236.1 255.8,1236.4 250.3,1235.8 C244.8,1235.2 248.0,1232.0 248.0,1231.0Z" fill="url(#gch)"/>
<path d="M249.5,1231.2 C250.5,1230.4 254.8,1230.3 258.0,1230.6 C261.2,1230.9 267.9,1231.9 268.6,1232.8 C269.3,1233.7 264.8,1235.4 262.0,1235.8 C259.2,1236.2 254.1,1236.2 252.0,1235.4 C249.9,1234.6 248.5,1232.0 249.5,1231.2Z" fill="#ff0000"/>
<g opacity="0.55">
<line x1="122.9" y1="1207.0" x2="422.9" y2="1109.6" stroke="#1c1c1c" stroke-width="1.6"/>
<line x1="422.9" y1="1109.6" x2="708.9" y2="1212.9" stroke="#1c1c1c" stroke-width="1.6"/>
</g>
<circle cx="613.7" cy="853.7" r="7.6" fill="#000000"/>
<text transform="translate(99.9,835.9) scale(1,1.04)" font-family='"Liberation Sans", Arial, sans-serif' font-size="41" font-weight="bold" font-style="normal" fill="#161616" text-anchor="end">60</text>
<text transform="translate(99.9,870.5) scale(1,1.04)" font-family='"Liberation Sans", Arial, sans-serif' font-size="41" font-weight="bold" font-style="normal" fill="#161616" text-anchor="end">40</text>
<text transform="translate(99.9,905.5) scale(1,1.04)" font-family='"Liberation Sans", Arial, sans-serif' font-size="41" font-weight="bold" font-style="normal" fill="#161616" text-anchor="end">20</text>
<text transform="translate(99.9,1009.0) scale(1,1.04)" font-family='"Liberation Sans", Arial, sans-serif' font-size="41" font-weight="bold" font-style="normal" fill="#161616" text-anchor="end">14</text>
<text transform="translate(99.9,1111.6) scale(1,1.04)" font-family='"Liberation Sans", Arial, sans-serif' font-size="41" font-weight="bold" font-style="normal" fill="#161616" text-anchor="end">8</text>
<text transform="translate(99.9,1214.9) scale(1,1.04)" font-family='"Liberation Sans", Arial, sans-serif' font-size="41" font-weight="bold" font-style="normal" fill="#161616" text-anchor="end">2</text>
<text transform="translate(143.9,1273.6) scale(1,1.04)" font-family='"Liberation Sans", Arial, sans-serif' font-size="41" font-weight="bold" font-style="normal" fill="#161616" text-anchor="middle">3</text>
<text transform="translate(235.4,1306.6) scale(1,1.04)" font-family='"Liberation Sans", Arial, sans-serif' font-size="41" font-weight="bold" font-style="normal" fill="#161616" text-anchor="middle">2</text>
<text transform="translate(326.1,1341.1) scale(1,1.04)" font-family='"Liberation Sans", Arial, sans-serif' font-size="41" font-weight="bold" font-style="normal" fill="#161616" text-anchor="middle">1</text>
<text transform="translate(462.9,1356.8) scale(1,1.04)" font-family='"Liberation Sans", Arial, sans-serif' font-size="41" font-weight="bold" font-style="normal" fill="#161616" text-anchor="middle">0.8</text>
<text transform="translate(562.3,1324.3) scale(1,1.04)" font-family='"Liberation Sans", Arial, sans-serif' font-size="41" font-weight="bold" font-style="normal" fill="#161616" text-anchor="middle">0.6</text>
<text transform="translate(661.0,1292.9) scale(1,1.04)" font-family='"Liberation Sans", Arial, sans-serif' font-size="41" font-weight="bold" font-style="normal" fill="#161616" text-anchor="middle">0.4</text>
<text transform="translate(759.6,1260.3) scale(1,1.04)" font-family='"Liberation Sans", Arial, sans-serif' font-size="41" font-weight="bold" font-style="normal" fill="#161616" text-anchor="middle">0.2</text>
<text transform="translate(176.6,1345.3) scale(1,1.04)" font-family='"Liberation Sans", Arial, sans-serif' font-size="45.5" font-weight="bold" font-style="italic" fill="#161616" text-anchor="start">D</text>
<text transform="translate(209.6,1368.0) scale(1,1.04)" font-family='"Liberation Sans", Arial, sans-serif' font-size="34" font-weight="bold" font-style="normal" fill="#161616" text-anchor="start">a</text>
<text transform="translate(613.8,1354.2) scale(0.87,1.04)" font-family='"Liberation Sans", Arial, sans-serif' font-size="45" font-weight="bold" font-style="italic" fill="#161616">f</text>
<text x="0" y="0" transform="translate(34.4,1016.6) rotate(-90)" font-family='"Noto Serif CJK SC", "Liberation Serif", serif' font-size="46" font-style="italic" font-weight="bold" fill="#161616" text-anchor="middle">κ</text>
<line x1="124.3" y1="820.9" x2="124.3" y2="1210.5" stroke="#0000ff" stroke-width="4.2"/>
<text transform="translate(129.7,841.2) scale(1,1.04)" font-family='"Liberation Sans", Arial, sans-serif' font-size="29.2" font-weight="bold" font-style="normal" fill="#0000ff" text-anchor="start">0.98</text>
<text transform="translate(129.7,875.6) scale(1,1.04)" font-family='"Liberation Sans", Arial, sans-serif' font-size="29.2" font-weight="bold" font-style="normal" fill="#0000ff" text-anchor="start">0.97</text>
<text transform="translate(129.7,910.3) scale(1,1.04)" font-family='"Liberation Sans", Arial, sans-serif' font-size="29.2" font-weight="bold" font-style="normal" fill="#0000ff" text-anchor="start">0.95</text>
<text transform="translate(129.7,1009.2) scale(1,1.04)" font-family='"Liberation Sans", Arial, sans-serif' font-size="29.2" font-weight="bold" font-style="normal" fill="#0000ff" text-anchor="start">0.93</text>
<text transform="translate(129.7,1117.6) scale(1,1.04)" font-family='"Liberation Sans", Arial, sans-serif' font-size="29.2" font-weight="bold" font-style="normal" fill="#0000ff" text-anchor="start">0.86</text>
<text transform="translate(129.7,1221.5) scale(1,1.04)" font-family='"Liberation Sans", Arial, sans-serif' font-size="29.2" font-weight="bold" font-style="normal" fill="#0000ff" text-anchor="start">0.53</text>
<text x="0" y="0" transform="translate(200.0,998.3) rotate(90) scale(1,1.04)" font-family='"Liberation Sans", Arial, sans-serif' font-size="30" font-weight="bold" fill="#0000ff">c<tspan font-size="20" dy="5.5">2</tspan></text>
<text transform="translate(151.0,761.2) scale(1,1.04)" font-family='"Liberation Sans", Arial, sans-serif' font-size="41" font-weight="bold" font-style="normal" fill="#000000" text-anchor="start">Ac.</text>
<g>
<line x1="1118.7" y1="1141.4" x2="1118.9" y2="753.0" stroke="#dedede" stroke-width="1.5"/>
<line x1="1020.0" y1="1173.4" x2="1020.3" y2="784.5" stroke="#dedede" stroke-width="1.5"/>
<line x1="921.6" y1="1205.3" x2="922.1" y2="815.8" stroke="#dedede" stroke-width="1.5"/>
<line x1="1216.5" y1="1007.0" x2="916.6" y2="1103.9" stroke="#d7d7d7" stroke-width="1.5"/>
<line x1="1216.5" y1="903.9" x2="916.8" y2="1000.3" stroke="#d7d7d7" stroke-width="1.5"/>
<line x1="1216.5" y1="800.2" x2="916.9" y2="896.1" stroke="#d7d7d7" stroke-width="1.5"/>
<line x1="1216.5" y1="765.4" x2="916.9" y2="861.1" stroke="#d7d7d7" stroke-width="1.5"/>
<line x1="1216.5" y1="730.3" x2="917.0" y2="825.9" stroke="#d7d7d7" stroke-width="1.5"/>
<line x1="1273.7" y1="1130.3" x2="1273.7" y2="742.3" stroke="#dedede" stroke-width="1.5"/>
<line x1="1364.9" y1="1163.2" x2="1364.9" y2="774.8" stroke="#dedede" stroke-width="1.5"/>
<line x1="1455.6" y1="1196.0" x2="1455.6" y2="807.1" stroke="#dedede" stroke-width="1.5"/>
<line x1="1216.5" y1="1007.0" x2="1502.5" y2="1109.9" stroke="#d7d7d7" stroke-width="1.5"/>
<line x1="1216.5" y1="903.9" x2="1502.5" y2="1006.4" stroke="#d7d7d7" stroke-width="1.5"/>
<line x1="1216.5" y1="800.2" x2="1502.5" y2="902.4" stroke="#d7d7d7" stroke-width="1.5"/>
<line x1="1216.5" y1="765.4" x2="1502.5" y2="867.5" stroke="#d7d7d7" stroke-width="1.5"/>
<line x1="1216.5" y1="730.3" x2="1502.5" y2="832.2" stroke="#d7d7d7" stroke-width="1.5"/>
<line x1="1273.7" y1="1130.3" x2="973.7" y2="1227.7" stroke="#d7d7d7" stroke-width="1.5"/>
<line x1="1364.9" y1="1163.2" x2="1064.9" y2="1260.6" stroke="#d7d7d7" stroke-width="1.5"/>
<line x1="1455.6" y1="1196.0" x2="1155.6" y2="1293.4" stroke="#d7d7d7" stroke-width="1.5"/>
<line x1="1118.7" y1="1141.4" x2="1404.7" y2="1244.7" stroke="#d7d7d7" stroke-width="1.5"/>
<line x1="1020.0" y1="1173.4" x2="1306.0" y2="1276.7" stroke="#d7d7d7" stroke-width="1.5"/>
<line x1="921.6" y1="1205.3" x2="1207.6" y2="1308.6" stroke="#d7d7d7" stroke-width="1.5"/>
</g>
<line x1="1216.5" y1="1109.6" x2="1216.5" y2="721.9" stroke="#1c1c1c" stroke-width="1.6" stroke-linecap="square"/>
<line x1="916.5" y1="1207.0" x2="917.0" y2="817.4" stroke="#1c1c1c" stroke-width="1.6" stroke-linecap="square"/>
<line x1="1502.5" y1="1212.9" x2="1502.5" y2="823.8" stroke="#1c1c1c" stroke-width="1.6" stroke-linecap="square"/>
<line x1="917.0" y1="817.4" x2="1216.5" y2="721.9" stroke="#1c1c1c" stroke-width="1.6" stroke-linecap="square"/>
<line x1="1216.5" y1="721.9" x2="1502.5" y2="823.8" stroke="#1c1c1c" stroke-width="1.6" stroke-linecap="square"/>
<line x1="916.5" y1="1207.0" x2="1216.5" y2="1109.6" stroke="#1c1c1c" stroke-width="1.6" stroke-linecap="square"/>
<line x1="1216.5" y1="1109.6" x2="1502.5" y2="1212.9" stroke="#1c1c1c" stroke-width="1.6" stroke-linecap="square"/>
<line x1="916.5" y1="1207.0" x2="1202.5" y2="1310.3" stroke="#1c1c1c" stroke-width="1.6" stroke-linecap="square"/>
<line x1="1202.5" y1="1310.3" x2="1502.5" y2="1212.9" stroke="#1c1c1c" stroke-width="1.6" stroke-linecap="square"/>
<line x1="916.5" y1="1207.0" x2="909.4" y2="1204.5" stroke="#1c1c1c" stroke-width="1.6"/>
<line x1="916.6" y1="1103.9" x2="909.6" y2="1101.4" stroke="#1c1c1c" stroke-width="1.6"/>
<line x1="916.8" y1="1000.3" x2="909.7" y2="997.7" stroke="#1c1c1c" stroke-width="1.6"/>
<line x1="916.9" y1="896.1" x2="909.8" y2="893.6" stroke="#1c1c1c" stroke-width="1.6"/>
<line x1="916.9" y1="861.1" x2="909.9" y2="858.6" stroke="#1c1c1c" stroke-width="1.6"/>
<line x1="917.0" y1="825.9" x2="909.9" y2="823.3" stroke="#1c1c1c" stroke-width="1.6"/>
<line x1="973.7" y1="1227.7" x2="966.6" y2="1230.0" stroke="#1c1c1c" stroke-width="1.6"/>
<line x1="1064.9" y1="1260.6" x2="1057.8" y2="1262.9" stroke="#1c1c1c" stroke-width="1.6"/>
<line x1="1155.6" y1="1293.4" x2="1148.5" y2="1295.7" stroke="#1c1c1c" stroke-width="1.6"/>
<line x1="1502.5" y1="1212.9" x2="1509.6" y2="1215.4" stroke="#1c1c1c" stroke-width="1.6"/>
<line x1="1404.7" y1="1244.7" x2="1411.8" y2="1247.2" stroke="#1c1c1c" stroke-width="1.6"/>
<line x1="1306.0" y1="1276.7" x2="1313.1" y2="1279.2" stroke="#1c1c1c" stroke-width="1.6"/>
<line x1="1207.6" y1="1308.6" x2="1214.7" y2="1311.2" stroke="#1c1c1c" stroke-width="1.6"/>
<g style="mix-blend-mode:multiply">
<path d="M980.2,1200.9 C981.9,1197.5 988.6,1193.0 995.4,1189.0 C1002.2,1185.0 1012.3,1180.6 1020.8,1177.2 C1029.3,1173.8 1037.7,1171.7 1046.2,1168.7 C1054.7,1165.7 1063.1,1162.2 1071.6,1159.4 C1080.1,1156.6 1091.1,1152.9 1097.0,1151.8 C1102.9,1150.7 1104.8,1151.5 1107.2,1152.6 C1109.6,1153.7 1111.7,1155.8 1111.4,1158.5 C1111.1,1161.2 1108.6,1165.0 1105.5,1168.7 C1102.4,1172.4 1097.8,1176.6 1092.8,1180.6 C1087.8,1184.5 1082.1,1188.5 1075.8,1192.4 C1069.5,1196.4 1061.0,1200.9 1054.7,1204.3 C1048.4,1207.7 1043.4,1210.3 1037.7,1212.7 C1032.0,1215.1 1025.7,1217.6 1020.8,1218.7 C1015.9,1219.8 1012.3,1220.1 1008.1,1219.5 C1003.9,1218.9 999.2,1217.0 995.4,1215.3 C991.6,1213.6 987.7,1211.8 985.2,1209.4 C982.7,1207.0 978.5,1204.3 980.2,1200.9Z" fill="#fff9cc"/>
<path d="M986.9,1199.2 C991.0,1195.8 1003.8,1188.9 1012.3,1184.8 C1020.8,1180.7 1029.2,1177.7 1037.7,1174.6 C1046.2,1171.5 1055.3,1168.2 1063.1,1166.2 C1070.9,1164.2 1079.3,1163.0 1084.3,1162.8 C1089.2,1162.6 1091.1,1164.0 1092.8,1165.3 C1094.5,1166.6 1095.2,1168.1 1094.5,1170.4 C1093.8,1172.7 1092.3,1175.5 1088.5,1178.9 C1084.7,1182.3 1077.2,1187.2 1071.6,1190.7 C1066.0,1194.2 1060.3,1197.2 1054.7,1200.0 C1049.1,1202.8 1043.4,1205.4 1037.7,1207.7 C1032.0,1210.0 1026.1,1212.3 1020.8,1213.6 C1015.4,1214.9 1010.2,1215.7 1005.6,1215.3 C1001.0,1214.9 995.9,1212.7 992.9,1211.0 C989.9,1209.3 988.5,1207.1 987.5,1205.1 C986.5,1203.1 982.8,1202.6 986.9,1199.2Z" fill="#ffeb8e"/>
</g>
<path d="M993.7,1200.0 C997.1,1196.9 1008.6,1192.2 1016.6,1189.0 C1024.7,1185.8 1035.0,1182.6 1042.0,1180.6 C1049.0,1178.6 1054.0,1177.8 1058.9,1177.2 C1063.8,1176.6 1069.5,1176.6 1071.6,1177.2 C1073.7,1177.8 1073.0,1178.6 1071.6,1180.6 C1070.2,1182.6 1066.6,1186.0 1063.1,1189.0 C1059.6,1192.0 1055.3,1195.2 1050.4,1198.3 C1045.5,1201.4 1039.1,1205.3 1033.5,1207.7 C1027.9,1210.1 1021.5,1212.0 1016.6,1212.7 C1011.7,1213.4 1007.3,1212.7 1003.9,1211.9 C1000.5,1211.1 998.1,1209.7 996.4,1207.7 C994.7,1205.7 990.3,1203.1 993.7,1200.0Z" fill="#ffc03c"/>
<polygon points="1008.0,1202.0 1012.3,1200.0 1032.7,1196.7 1017.4,1209.4 1010.0,1211.0" fill="#ff8c1a"/>
<g opacity="0.55">
<line x1="916.5" y1="1207.0" x2="1216.5" y2="1109.6" stroke="#1c1c1c" stroke-width="1.6"/>
<line x1="1216.5" y1="1109.6" x2="1502.5" y2="1212.9" stroke="#1c1c1c" stroke-width="1.6"/>
</g>
<circle cx="1007.0" cy="1206.4" r="7.4" fill="#000000"/>
<text transform="translate(893.5,835.9) scale(1,1.04)" font-family='"Liberation Sans", Arial, sans-serif' font-size="41" font-weight="bold" font-style="normal" fill="#161616" text-anchor="end">60</text>
<text transform="translate(893.5,870.5) scale(1,1.04)" font-family='"Liberation Sans", Arial, sans-serif' font-size="41" font-weight="bold" font-style="normal" fill="#161616" text-anchor="end">40</text>
<text transform="translate(893.5,905.5) scale(1,1.04)" font-family='"Liberation Sans", Arial, sans-serif' font-size="41" font-weight="bold" font-style="normal" fill="#161616" text-anchor="end">20</text>
<text transform="translate(893.5,1009.0) scale(1,1.04)" font-family='"Liberation Sans", Arial, sans-serif' font-size="41" font-weight="bold" font-style="normal" fill="#161616" text-anchor="end">14</text>
<text transform="translate(893.5,1111.6) scale(1,1.04)" font-family='"Liberation Sans", Arial, sans-serif' font-size="41" font-weight="bold" font-style="normal" fill="#161616" text-anchor="end">8</text>
<text transform="translate(893.5,1214.9) scale(1,1.04)" font-family='"Liberation Sans", Arial, sans-serif' font-size="41" font-weight="bold" font-style="normal" fill="#161616" text-anchor="end">2</text>
<text transform="translate(937.5,1273.6) scale(1,1.04)" font-family='"Liberation Sans", Arial, sans-serif' font-size="41" font-weight="bold" font-style="normal" fill="#161616" text-anchor="middle">3</text>
<text transform="translate(1029.0,1306.6) scale(1,1.04)" font-family='"Liberation Sans", Arial, sans-serif' font-size="41" font-weight="bold" font-style="normal" fill="#161616" text-anchor="middle">2</text>
<text transform="translate(1119.7,1341.1) scale(1,1.04)" font-family='"Liberation Sans", Arial, sans-serif' font-size="41" font-weight="bold" font-style="normal" fill="#161616" text-anchor="middle">1</text>
<text transform="translate(1256.5,1356.8) scale(1,1.04)" font-family='"Liberation Sans", Arial, sans-serif' font-size="41" font-weight="bold" font-style="normal" fill="#161616" text-anchor="middle">0.8</text>
<text transform="translate(1355.9,1324.3) scale(1,1.04)" font-family='"Liberation Sans", Arial, sans-serif' font-size="41" font-weight="bold" font-style="normal" fill="#161616" text-anchor="middle">0.6</text>
<text transform="translate(1454.6,1292.9) scale(1,1.04)" font-family='"Liberation Sans", Arial, sans-serif' font-size="41" font-weight="bold" font-style="normal" fill="#161616" text-anchor="middle">0.4</text>
<text transform="translate(1553.2,1260.3) scale(1,1.04)" font-family='"Liberation Sans", Arial, sans-serif' font-size="41" font-weight="bold" font-style="normal" fill="#161616" text-anchor="middle">0.2</text>
<text transform="translate(967.6,1340.6) scale(1,1.04)" font-family='"Liberation Sans", Arial, sans-serif' font-size="45.5" font-weight="bold" font-style="italic" fill="#161616" text-anchor="start">D</text>
<text transform="translate(1000.6,1363.3) scale(1,1.04)" font-family='"Liberation Sans", Arial, sans-serif' font-size="34" font-weight="bold" font-style="normal" fill="#161616" text-anchor="start">a</text>
<text transform="translate(1403.8,1354.4) scale(0.87,1.04)" font-family='"Liberation Sans", Arial, sans-serif' font-size="45" font-weight="bold" font-style="italic" fill="#161616">f</text>
<text x="0" y="0" transform="translate(828.0,1016.6) rotate(-90)" font-family='"Noto Serif CJK SC", "Liberation Serif", serif' font-size="46" font-style="italic" font-weight="bold" fill="#161616" text-anchor="middle">κ</text>
<line x1="918.4" y1="820.2" x2="918.4" y2="1209.8" stroke="#0000ff" stroke-width="4.2"/>
<text transform="translate(920.6,840.8) scale(1,1.04)" font-family='"Liberation Sans", Arial, sans-serif' font-size="29.2" font-weight="bold" font-style="normal" fill="#0000ff" text-anchor="start">0.98</text>
<text transform="translate(920.6,875.2) scale(1,1.04)" font-family='"Liberation Sans", Arial, sans-serif' font-size="29.2" font-weight="bold" font-style="normal" fill="#0000ff" text-anchor="start">0.97</text>
<text transform="translate(920.6,909.9) scale(1,1.04)" font-family='"Liberation Sans", Arial, sans-serif' font-size="29.2" font-weight="bold" font-style="normal" fill="#0000ff" text-anchor="start">0.95</text>
<text transform="translate(920.6,1008.8) scale(1,1.04)" font-family='"Liberation Sans", Arial, sans-serif' font-size="29.2" font-weight="bold" font-style="normal" fill="#0000ff" text-anchor="start">0.93</text>
<text transform="translate(920.6,1117.2) scale(1,1.04)" font-family='"Liberation Sans", Arial, sans-serif' font-size="29.2" font-weight="bold" font-style="normal" fill="#0000ff" text-anchor="start">0.86</text>
<text transform="translate(920.6,1221.1) scale(1,1.04)" font-family='"Liberation Sans", Arial, sans-serif' font-size="29.2" font-weight="bold" font-style="normal" fill="#0000ff" text-anchor="start">0.53</text>
<text x="0" y="0" transform="translate(997.9,998.3) rotate(90) scale(1,1.04)" font-family='"Liberation Sans", Arial, sans-serif' font-size="30" font-weight="bold" fill="#0000ff">c<tspan font-size="20" dy="5.5">2</tspan></text>
<text transform="translate(951.3,761.4) scale(1,1.04)" font-family='"Liberation Sans", Arial, sans-serif' font-size="41" font-weight="bold" font-style="normal" fill="#000000" text-anchor="start">Ad.</text>
<text transform="translate(266.0,150.5) scale(1,1.06)" font-family='"Liberation Sans", Arial, sans-serif' font-size="33.5" font-weight="bold" fill="#c40000" textLength="235.5" lengthAdjust="spacingAndGlyphs">True minimum</text>
<line x1="515" y1="144.2" x2="576" y2="153.8" stroke="#c40000" stroke-width="4.6"/>
<polygon points="589.8,156.3 575,145.4 572.2,161.8" fill="#c40000"/>
<text transform="translate(1032.8,411.6) scale(1,1.06)" font-family='"Liberation Sans", Arial, sans-serif' font-size="33" font-weight="bold" fill="#c40000" textLength="307" lengthAdjust="spacingAndGlyphs">Spurious minimum</text>
<line x1="1046.5" y1="417.0" x2="1018" y2="472" stroke="#c40000" stroke-width="4.8"/>
<polygon points="1010.3,485.7 1011.3,468.5 1025.6,476.6" fill="#c40000"/>
<rect x="1539.9" y="8.3" width="223.69999999999982" height="187.1" fill="#ffffff" stroke="#262626" stroke-width="1.4"/>
<rect x="1552.1" y="16.3" width="56.30000000000018" height="26.099999999999998" fill="#ff0000"/>
<text transform="translate(1615.4,40.0) scale(1,1.04)" font-family='"Liberation Sans", Arial, sans-serif' font-size="29" font-weight="bold" fill="#000000"><tspan font-style="italic">F</tspan> = 1e-08</text>
<rect x="1552.1" y="51.1" width="56.30000000000018" height="28.1" fill="#ff6600"/>
<text transform="translate(1615.4,76.3) scale(1,1.04)" font-family='"Liberation Sans", Arial, sans-serif' font-size="29" font-weight="bold" fill="#000000"><tspan font-style="italic">F</tspan> = 1e-07</text>
<rect x="1552.1" y="87.9" width="56.30000000000018" height="26.599999999999994" fill="#ff9900"/>
<text transform="translate(1615.4,111.9) scale(1,1.04)" font-family='"Liberation Sans", Arial, sans-serif' font-size="29" font-weight="bold" fill="#000000"><tspan font-style="italic">F</tspan> = 1e-06</text>
<rect x="1552.1" y="124.5" width="56.30000000000018" height="26.30000000000001" fill="#ffcc00"/>
<text transform="translate(1615.4,148.2) scale(1,1.04)" font-family='"Liberation Sans", Arial, sans-serif' font-size="29" font-weight="bold" fill="#000000"><tspan font-style="italic">F</tspan> = 1e-05</text>
<rect x="1552.1" y="159.5" width="56.30000000000018" height="28.19999999999999" fill="#ffff00"/>
<text transform="translate(1615.4,184.5) scale(1,1.04)" font-family='"Liberation Sans", Arial, sans-serif' font-size="29" font-weight="bold" fill="#000000"><tspan font-style="italic">F</tspan> = 0.0001</text>
<rect x="1541.0" y="701.4" width="219.5999999999999" height="188.39999999999998" fill="#ffffff" stroke="#262626" stroke-width="1.4"/>
<rect x="1553.2" y="709.5" width="56.399999999999864" height="25.899999999999977" fill="#ff0000"/>
<text transform="translate(1616.6,733.5) scale(1,1.04)" font-family='"Liberation Sans", Arial, sans-serif' font-size="29" font-weight="bold" fill="#000000"><tspan font-style="italic">F</tspan> = 4.5E-4</text>
<rect x="1553.2" y="744.9" width="56.399999999999864" height="27.700000000000045" fill="#ff6600"/>
<text transform="translate(1616.6,769.3) scale(1,1.04)" font-family='"Liberation Sans", Arial, sans-serif' font-size="29" font-weight="bold" fill="#000000"><tspan font-style="italic">F</tspan> = 5.0E-4</text>
<rect x="1553.2" y="781.8" width="56.399999999999864" height="25.600000000000023" fill="#ff9900"/>
<text transform="translate(1616.6,804.4) scale(1,1.04)" font-family='"Liberation Sans", Arial, sans-serif' font-size="29" font-weight="bold" fill="#000000"><tspan font-style="italic">F</tspan> = 6.0E-4</text>
<rect x="1553.2" y="818.5" width="56.399999999999864" height="26.299999999999955" fill="#ffcc00"/>
<text transform="translate(1616.6,841.7) scale(1,1.04)" font-family='"Liberation Sans", Arial, sans-serif' font-size="29" font-weight="bold" fill="#000000"><tspan font-style="italic">F</tspan> = 7.0E-4</text>
<rect x="1553.2" y="853.9" width="56.399999999999864" height="27.899999999999977" fill="#ffff00"/>
<text transform="translate(1616.6,878.3) scale(1,1.04)" font-family='"Liberation Sans", Arial, sans-serif' font-size="29" font-weight="bold" fill="#000000"><tspan font-style="italic">F</tspan> = 8.0E-4</text>
</svg>
</body></html>
